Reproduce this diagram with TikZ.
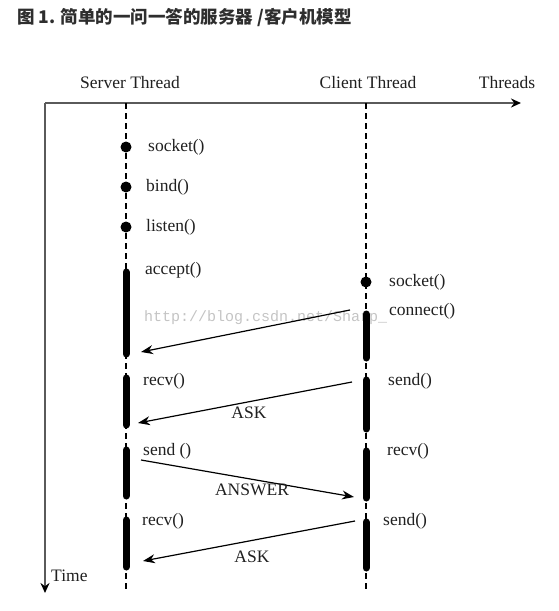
\documentclass[tikz,border=0pt]{standalone}
\usepackage{fontspec}
\setmainfont{Liberation Serif}
\newfontfamily\cjk{Noto Sans CJK SC}
\newfontfamily\wmfont{Liberation Mono}
\usetikzlibrary{arrows.meta}
\definecolor{ink}{HTML}{202020}
\definecolor{axisgray}{HTML}{5A5A5A}
\definecolor{wmgray}{HTML}{C4C4C4}
\definecolor{titlegray}{HTML}{2E2E2E}

\begin{document}
\begin{tikzpicture}[x=1pt,y=-1pt,line join=round,>=Stealth,
  lbl/.style={anchor=west,inner sep=0pt,text=ink,font=\fontsize{17.5}{17}\selectfont},
  head/.style={inner sep=0pt,text=ink,font=\fontsize{17.5}{17}\selectfont},
  life/.style={line width=1.6pt,dash pattern=on 6pt off 4pt},
  actbar/.style={line width=7pt,line cap=round},
  msg/.style={-{Stealth[length=12pt,width=9pt]},line width=1.2pt}]
  \useasboundingbox (0,0) rectangle (559,611);
  % watermark
  \node[anchor=west,inner sep=0pt,text=wmgray,font=\wmfont\fontsize{15}{15}\selectfont] (wm) at (144,318) {http://blog.csdn.net/Sharp\_};
  % title
  \node[anchor=west,inner sep=0pt,text=titlegray,font=\cjk\bfseries\fontsize{17.5}{17}\selectfont] (title) at (17,17) {图 1. 简单的一问一答的服务器 /客户机模型};
  % axes
  \coordinate (O) at (45,103);
  \coordinate (tx) at (521,103);
  \coordinate (ty) at (45,593);
  \draw[axisgray,line width=2pt,-{Stealth[length=10pt,width=9pt,black]}] (O) -- (tx);
  \draw[axisgray,line width=2pt,-{Stealth[length=10pt,width=9pt,black]}] (O) -- (ty);
  \node[head] (srv) at (130,83) {Server Thread};
  \node[head] (cli) at (368,83) {Client Thread};
  \node[head] (thr) at (507,83) {Threads};
  \node[lbl] (time) at (51,576) {Time};
  % life lines
  \coordinate (s0) at (126,103);
  \coordinate (s1) at (126,590);
  \coordinate (c0) at (366,103);
  \coordinate (c1) at (366,590);
  \draw[life] (s0) -- (s1);
  \draw[life] (c0) -- (c1);
  % server side
  \fill (126,147) circle (5.5pt);
  \fill (126,187) circle (5.5pt);
  \fill (126,227) circle (5.5pt);
  \draw[actbar] (126,272) -- (126,354);
  \draw[actbar] (126,378) -- (126,425);
  \draw[actbar] (126,450) -- (126,496);
  \draw[actbar] (126,520) -- (126,567);
  \node[lbl] (ssock) at (148,147) {socket()};
  \node[lbl] (sbind) at (146,187) {bind()};
  \node[lbl] (slist) at (146,227) {listen()};
  \node[lbl] (sacc) at (145,270) {accept()};
  \node[lbl] (srecv) at (143,381) {recv()};
  \node[lbl] (ssend) at (143,451) {send ()};
  \node[lbl] (srecvb) at (142,521) {recv()};
  % client side
  \fill (366,282) circle (5.5pt);
  \draw[actbar] (366,314) -- (366,358);
  \draw[actbar] (366,380) -- (366,429);
  \draw[actbar] (366,451) -- (366,498);
  \draw[actbar] (366,522) -- (366,568);
  \node[lbl] (csock) at (389,282) {socket()};
  \node[lbl] (cconn) at (389,311) {connect()};
  \node[lbl] (csend) at (388,381) {send()};
  \node[lbl] (crecv) at (387,451) {recv()};
  \node[lbl] (csendb) at (383,521) {send()};
  % messages
  \coordinate (m1a) at (350,310);
  \coordinate (m1b) at (141,352);
  \coordinate (m2a) at (352,382);
  \coordinate (m2b) at (138,423);
  \coordinate (m3a) at (141,460);
  \coordinate (m3b) at (354,497);
  \coordinate (m4a) at (355,521);
  \coordinate (m4b) at (143,561);
  \draw[msg] (m1a) -- (m1b);
  \draw[msg] (m2a) -- (m2b);
  \draw[msg] (m3a) -- (m3b);
  \draw[msg] (m4a) -- (m4b);
  \node[head] (ask) at (249,413) {ASK};
  \node[head] (ans) at (252,490) {ANSWER};
  \node[head] (askb) at (252,557) {ASK};
\end{tikzpicture}
\end{document}
